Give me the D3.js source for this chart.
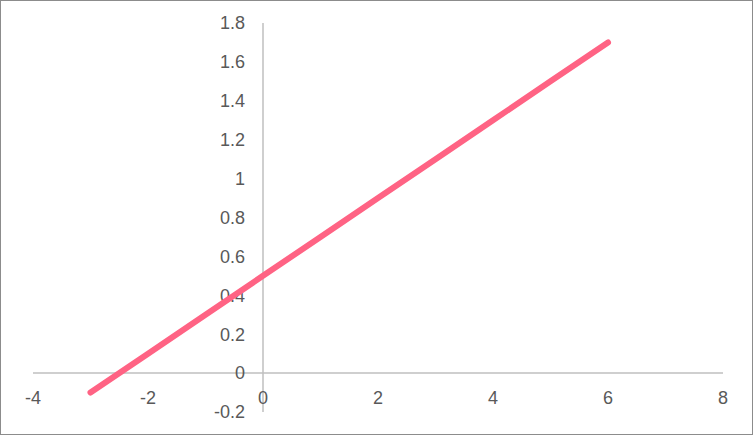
<!DOCTYPE html>
<html>
<head>
<meta charset="utf-8">
<script src="https://cdn.jsdelivr.net/npm/d3@7"></script>
<style>
  body { margin: 0; background: #fff; }
  text { font-family: "Liberation Sans", Arial, sans-serif; }
</style>
</head>
<body>
<div id="chart"></div>
<script>
// Width and height
const WIDTH = 754;
const HEIGHT = 436;

// Data
const xValues = [-3, -2, -1, 0, 1, 2, 3, 4, 5, 6];
const yValues = [-0.1, 0.1, 0.3, 0.5, 0.7, 0.9, 1.1, 1.3, 1.5, 1.7];
const xTicks = [-4, -2, 0, 2, 4, 6, 8];
const yTicks = [-0.2, 0, 0.2, 0.4, 0.6, 0.8, 1, 1.2, 1.4, 1.6, 1.8];

const svg = d3
  .select("#chart")
  .append("svg")
  .attr("width", WIDTH)
  .attr("height", HEIGHT);

// Outer border
svg
  .append("rect")
  .attr("x", 0.5)
  .attr("y", 0.5)
  .attr("width", WIDTH - 2)
  .attr("height", HEIGHT - 2)
  .attr("fill", "#fff")
  .attr("stroke", "#8c8c8c");

// Scales
const x = d3.scaleLinear().domain([-4, 8]).range([33, 723]);
const y = d3.scaleLinear().domain([-0.2, 1.8]).range([412, 23]);

const axisColor = "#bfbfbf";
const textColor = "#595959";

// Axis lines crossing at zero
svg
  .append("line")
  .attr("x1", x(-4))
  .attr("x2", x(8))
  .attr("y1", y(0))
  .attr("y2", y(0))
  .attr("stroke", axisColor)
  .attr("stroke-width", 1.5);

svg
  .append("line")
  .attr("x1", x(0))
  .attr("x2", x(0))
  .attr("y1", y(-0.2))
  .attr("y2", y(1.8))
  .attr("stroke", axisColor)
  .attr("stroke-width", 1.5);

// X tick labels
svg
  .append("g")
  .selectAll("text")
  .data(xTicks)
  .enter()
  .append("text")
  .attr("x", (d) => x(d))
  .attr("y", y(0) + 31)
  .attr("text-anchor", "middle")
  .attr("font-size", 18)
  .attr("fill", textColor)
  .text((d) => String(d));

// Y tick labels
svg
  .append("g")
  .selectAll("text")
  .data(yTicks)
  .enter()
  .append("text")
  .attr("x", x(0) - 18)
  .attr("y", (d) => y(d))
  .attr("dy", "0.35em")
  .attr("text-anchor", "end")
  .attr("font-size", 18)
  .attr("fill", textColor)
  .text((d) => String(+d.toFixed(1)));

// Series line
const line = d3
  .line()
  .x((d) => x(d[0]))
  .y((d) => y(d[1]));

svg
  .append("path")
  .datum(xValues.map((v, i) => [v, yValues[i]]))
  .attr("d", line)
  .attr("fill", "none")
  .attr("stroke", "#ff6384")
  .attr("stroke-width", 6)
  .attr("stroke-linecap", "round")
  .attr("stroke-linejoin", "round");
</script>
</body>
</html>
